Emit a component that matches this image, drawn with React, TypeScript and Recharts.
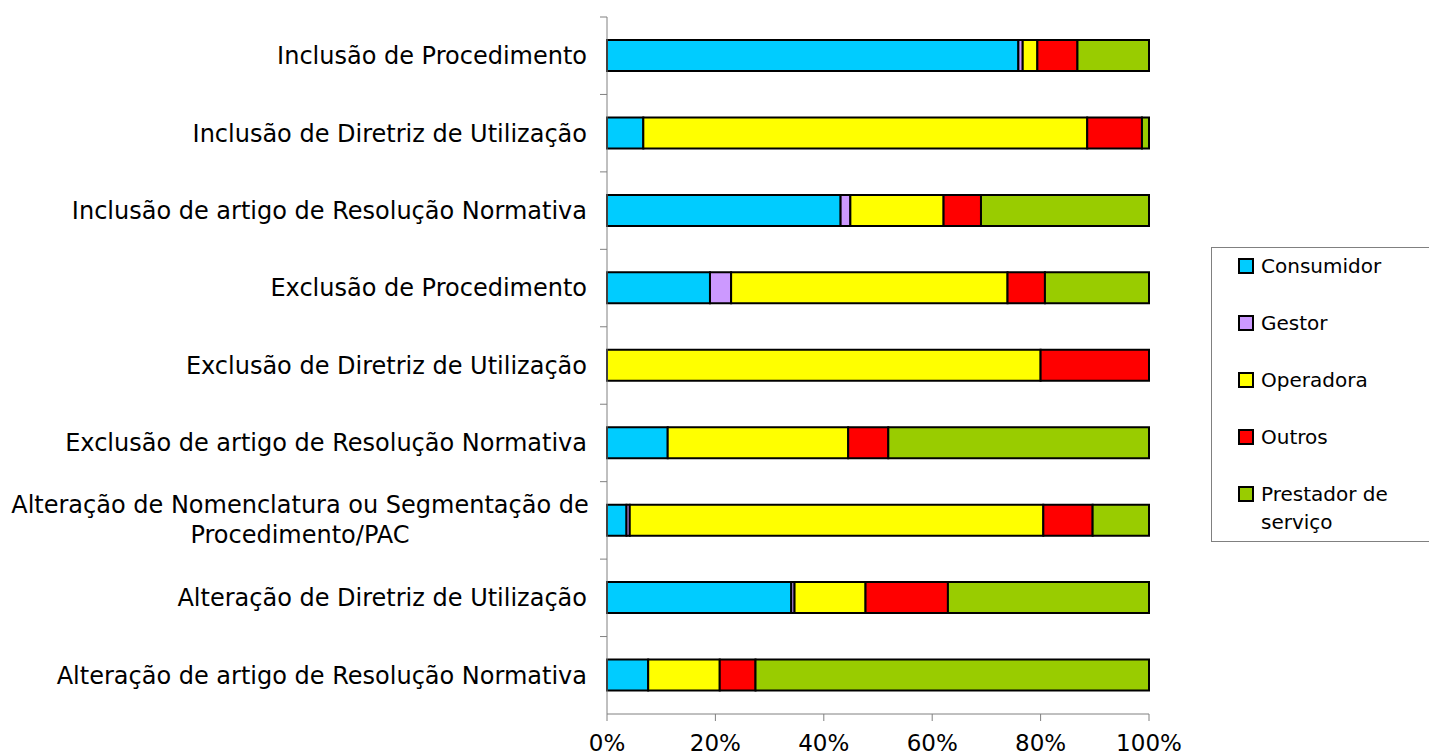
import React from "react"
import {
  BarChart,
  Bar,
  XAxis,
  YAxis,
} from "recharts"

const categories = [
  "Inclusão de Procedimento",
  "Inclusão de Diretriz de Utilização",
  "Inclusão de artigo de Resolução Normativa",
  "Exclusão de Procedimento",
  "Exclusão de Diretriz de Utilização",
  "Exclusão de artigo de Resolução Normativa",
  "Alteração de Nomenclatura ou Segmentação de\nProcedimento/PAC",
  "Alteração de Diretriz de Utilização",
  "Alteração de artigo de Resolução Normativa",
]

const consumidor = [75.9, 6.7, 43.1, 19.0, 0, 11.2, 3.6, 34.0, 7.6]
const gestor = [0.8, 0, 1.8, 3.9, 0, 0, 0.6, 0.6, 0]
const operadora = [2.7, 81.9, 17.2, 51.0, 80.0, 33.3, 76.3, 13.1, 13.2]
const outros = [7.4, 10.1, 6.9, 6.9, 20.0, 7.4, 9.1, 15.2, 6.6]
const prestador = [13.2, 1.3, 31.0, 19.2, 0, 48.1, 10.4, 37.1, 72.6]

const xTicks = [0, 20, 40, 60, 80, 100]

const series = [
  { key: "consumidor", label: "Consumidor", color: "#00CCFF" },
  { key: "gestor", label: "Gestor", color: "#CC99FF" },
  { key: "operadora", label: "Operadora", color: "#FFFF00" },
  { key: "outros", label: "Outros", color: "#FF0000" },
  { key: "prestador", label: "Prestador de\nserviço", color: "#99CC00" },
]

const data = categories.map((name, i) => ({
  name,
  consumidor: consumidor[i],
  gestor: gestor[i],
  operadora: operadora[i],
  outros: outros[i],
  prestador: prestador[i],
}))

const FONT = "Verdana, 'DejaVu Sans', sans-serif"
const W = 1429
const H = 753
const TOP = 17
const BOTTOM = 39
const LEFT = 607
const RIGHT = 280
const band = (H - TOP - BOTTOM) / categories.length

function CategoryTick(props: any) {
  const { x, y, payload, index } = props
  const axisX = x + 20
  const lines: string[] = String(payload.value).split("\n")
  return (
    <g>
      {index === 0 && (
        <line x1={axisX - 7} x2={axisX} y1={y - band / 2} y2={y - band / 2} stroke="#808080" />
      )}
      {index < categories.length - 1 && (
        <line x1={axisX - 7} x2={axisX} y1={y + band / 2} y2={y + band / 2} stroke="#808080" />
      )}
      {lines.length === 1 ? (
        <text x={x} y={y} dy="0.35em" textAnchor="end" fontFamily={FONT} fontSize={24} fill="#000">
          {lines[0]}
        </text>
      ) : (
        <text x={x - 287} y={y} textAnchor="middle" fontFamily={FONT} fontSize={24} fill="#000">
          {lines.map((l, i) => (
            <tspan key={i} x={x - 287} dy={i === 0 ? "-0.3em" : "1.25em"}>
              {l}
            </tspan>
          ))}
        </text>
      )}
    </g>
  )
}

function LegendBox() {
  return (
    <div
      style={{
        position: "absolute",
        left: 1211,
        top: 247,
        width: 218,
        height: 295,
        border: "1px solid #808080",
        borderRight: "none",
        background: "#fff",
        boxSizing: "border-box",
        fontFamily: FONT,
        fontSize: 20,
        color: "#000",
        paddingTop: 4,
      }}
    >
      {series.map((s) => (
        <div key={s.key} style={{ display: "flex", alignItems: "flex-start", height: 57, paddingLeft: 26 }}>
          <span
            style={{
              display: "inline-block",
              width: 12,
              height: 12,
              background: s.color,
              border: "2px solid #000",
              marginTop: 6,
              marginRight: 7,
              flexShrink: 0,
            }}
          />
          <span style={{ whiteSpace: "pre-line", lineHeight: "28px" }}>{s.label}</span>
        </div>
      ))}
    </div>
  )
}

export default function App() {
  return (
    <div style={{ position: "absolute", left: 0, top: 0, width: W, height: H, background: "#fff" }}>
      <BarChart
        width={W}
        height={H}
        data={data}
        layout="vertical"
        barSize={31}
        margin={{ top: TOP, right: RIGHT, bottom: 0, left: 0 }}
      >
        <XAxis
          type="number"
          domain={[0, 100]}
          ticks={xTicks}
          tickFormatter={(v: number) => `${v}%`}
          height={BOTTOM}
          axisLine={{ stroke: "#808080" }}
          tickLine={{ stroke: "#808080" }}
          tickSize={7}
          tickMargin={14}
          interval={0}
          tick={{ fill: "#000", fontSize: 23, fontFamily: FONT }}
        />
        <YAxis
          type="category"
          dataKey="name"
          width={LEFT}
          interval={0}
          axisLine={{ stroke: "#808080" }}
          tickLine={false}
          tickSize={8}
          tickMargin={12}
          tick={<CategoryTick />}
        />
        {series.map((s) => (
          <Bar
            key={s.key}
            dataKey={s.key}
            name={s.label}
            stackId="a"
            fill={s.color}
            stroke="#000"
            strokeWidth={2}
            isAnimationActive={false}
          />
        ))}
      </BarChart>
      <LegendBox />
    </div>
  )
}
